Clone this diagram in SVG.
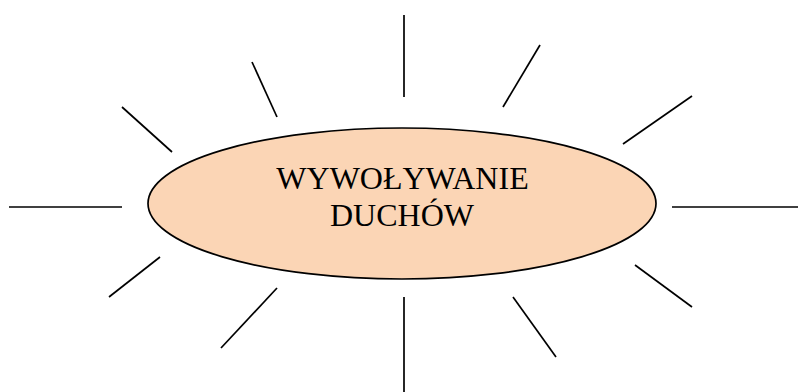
<svg xmlns="http://www.w3.org/2000/svg" width="798" height="392" viewBox="0 0 798 392">
<style>
.ray{stroke:#000;stroke-width:1.7;fill:none}
.lbl{font-family:"Liberation Serif","Times New Roman",serif;font-size:32px;fill:#000;text-anchor:middle}
</style>
<rect width="798" height="392" fill="#fff"/>
<g id="connectors">
<line class="ray" x1="404" y1="15" x2="404" y2="97"/>
<line class="ray" x1="540" y1="45" x2="503" y2="107"/>
<line class="ray" x1="692" y1="96" x2="623" y2="144"/>
<line class="ray" x1="672" y1="207" x2="798" y2="207"/>
<line class="ray" x1="635" y1="265" x2="692" y2="307"/>
<line class="ray" x1="513" y1="297" x2="556" y2="357"/>
<line class="ray" x1="404" y1="297" x2="404" y2="392"/>
<line class="ray" x1="277" y1="288" x2="221" y2="348"/>
<line class="ray" x1="160" y1="257" x2="109" y2="297"/>
<line class="ray" x1="9" y1="207" x2="122" y2="207"/>
<line class="ray" x1="122" y1="107" x2="172" y2="152"/>
<line class="ray" x1="252" y1="62" x2="277" y2="117"/>
</g>
<g id="center">
<ellipse cx="402" cy="203.5" rx="254" ry="75.5" fill="#FBD5B5" stroke="#000" stroke-width="1.7"/>
<text class="lbl" x="402.5" y="189">WYWOŁYWANIE</text>
<text class="lbl" x="402" y="226">DUCHÓW</text>
</g>
</svg>
